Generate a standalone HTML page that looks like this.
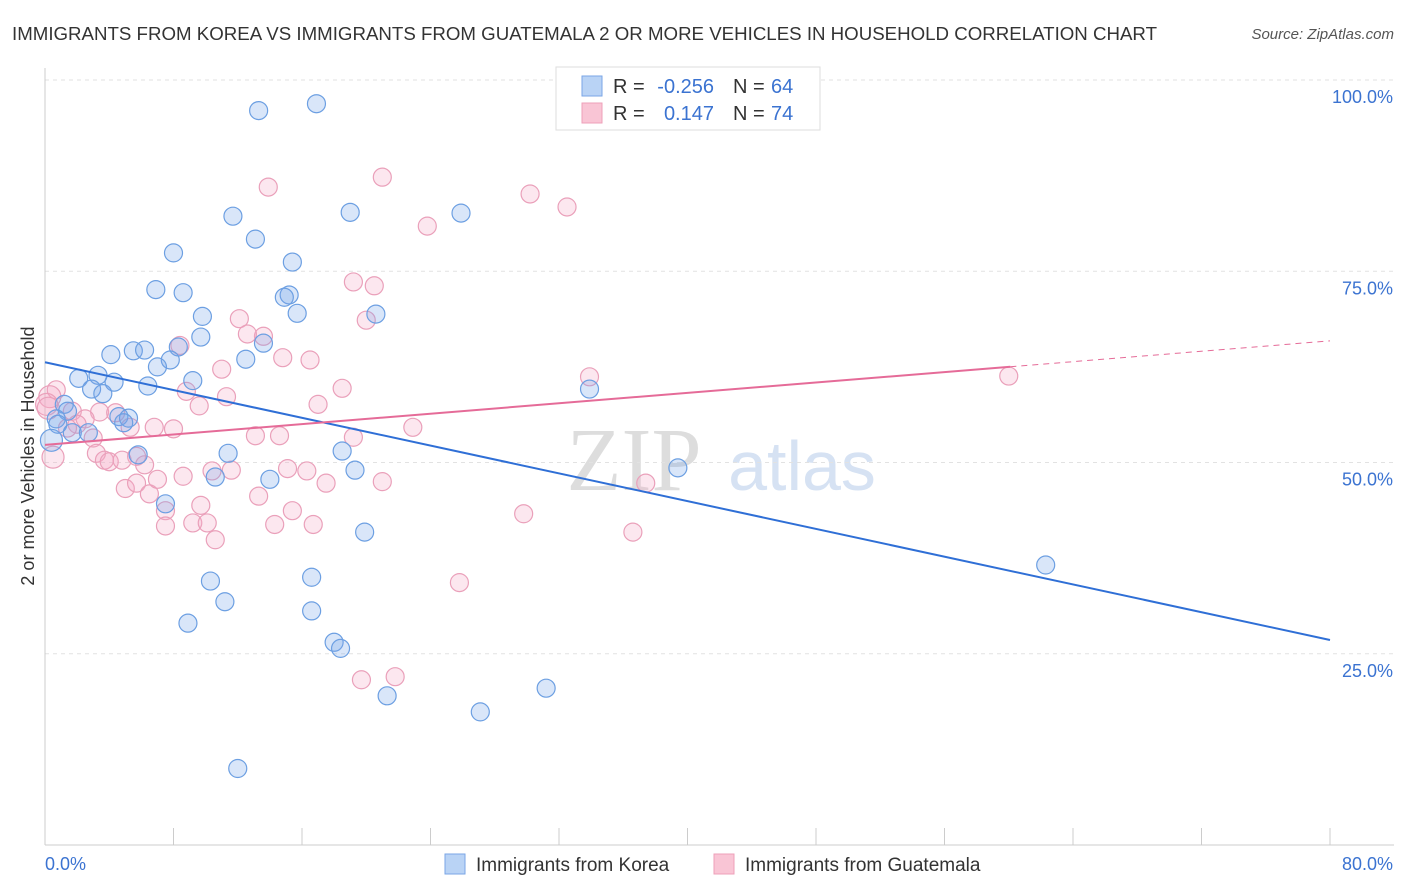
<!DOCTYPE html>
<html><head><meta charset="utf-8"><style>
body{margin:0;background:#fff;font-family:"Liberation Sans",sans-serif;}
svg{display:block}
</style></head><body>
<svg id="c" width="1406" height="892">
<text x="12" y="40" font-size="18" fill="#333" textLength="1145" lengthAdjust="spacingAndGlyphs">IMMIGRANTS FROM KOREA VS IMMIGRANTS FROM GUATEMALA 2 OR MORE VEHICLES IN HOUSEHOLD CORRELATION CHART</text>
<text x="1394" y="39" font-size="15" fill="#555" font-style="italic" text-anchor="end">Source: ZipAtlas.com</text>
<text x="634" y="490" font-size="90" fill="#ddd" font-family="Liberation Serif" text-anchor="middle">ZIP</text>
<text x="802" y="490" font-size="70" fill="#d6e2f3" text-anchor="middle">atlas</text>
<text transform="translate(34,456) rotate(-90)" font-size="18" fill="#333" text-anchor="middle">2 or more Vehicles in Household</text>
<g id="grid"></g><g id="pts"></g><g id="trend"></g>
<g>
<rect x="556" y="67" width="264" height="63" fill="#fff" stroke="#ddd"/>
<rect x="582" y="76" width="20" height="20" fill="#b9d3f5" stroke="#7aa6e6"/>
<rect x="582" y="103" width="20" height="20" fill="#f9c5d5" stroke="#eea0b9"/>
<text x="613" y="93" font-size="20" fill="#333">R =</text>
<text x="714" y="93" font-size="20" fill="#3b73d1" text-anchor="end">-0.256</text>
<text x="733" y="93" font-size="20" fill="#333">N =</text>
<text x="771" y="93" font-size="20" fill="#3b73d1">64</text>
<text x="613" y="120" font-size="20" fill="#333">R =</text>
<text x="714" y="120" font-size="20" fill="#3b73d1" text-anchor="end">0.147</text>
<text x="733" y="120" font-size="20" fill="#333">N =</text>
<text x="771" y="120" font-size="20" fill="#3b73d1">74</text>
</g>
<g>
<rect x="445" y="854" width="20" height="20" fill="#b9d3f5" stroke="#7aa6e6"/>
<text x="476" y="871" font-size="19" fill="#333">Immigrants from Korea</text>
<rect x="714" y="854" width="20" height="20" fill="#f9c5d5" stroke="#eea0b9"/>
<text x="745" y="871" font-size="19" fill="#333">Immigrants from Guatemala</text>
</g>
</svg>
<script>
const yTicks=[25,50,75,100];
const yTickLabels=["25.0%","50.0%","75.0%","100.0%"];
const xTickLabels=["0.0%","80.0%"];
const koreaX=[13.3,16.9,11.7,19.0,25.9,13.1,8.0,15.4,6.9,8.6,15.2,14.9,9.8,15.7,20.6,9.7,13.6,8.3,4.1,5.5,6.2,12.5,7.8,7.0,2.1,3.3,4.3,9.2,6.4,2.9,3.6,33.9,1.2,1.4,0.7,4.6,5.2,4.9,0.8,1.7,2.7,5.8,11.4,18.5,0.4,19.3,14.0,39.4,10.6,7.5,19.9,10.3,16.6,11.2,16.6,8.9,18.0,18.4,21.3,31.2,27.1,12.0,62.3];
const koreaY=[96.0,96.9,82.2,82.7,82.6,79.2,77.4,76.2,72.6,72.2,71.9,71.6,69.1,69.5,69.4,66.4,65.6,65.1,64.1,64.6,64.7,63.5,63.4,62.5,61.0,61.4,60.5,60.7,60.0,59.6,59.0,59.6,57.6,56.7,55.7,56.0,55.8,55.2,55.0,53.9,53.9,51.0,51.2,51.5,52.9,49.0,47.8,49.3,48.1,44.6,40.9,34.5,35.0,31.8,30.6,29.0,26.5,25.7,19.5,20.5,17.4,10.0,36.6];
const guatX=[13.9,21.0,30.2,32.5,23.8,19.2,20.5,20.0,12.1,13.6,12.6,8.4,14.8,16.5,11.0,8.8,18.5,33.9,60.0,11.3,0.7,0.3,0.1,9.6,17.0,1.7,3.4,2.5,2.0,1.4,4.4,6.8,5.3,8.0,22.9,19.2,3.0,13.1,14.6,5.7,6.2,3.2,3.7,4.0,4.8,8.6,10.4,11.6,15.1,16.3,17.5,21.0,37.4,5.0,5.7,6.5,7.0,13.3,9.7,15.4,7.5,7.5,9.2,10.1,14.3,16.7,10.6,29.8,36.6,25.8,19.7,21.8,0.5,0.2];
const guatY=[86.0,87.3,85.1,83.4,80.9,73.6,73.1,68.6,68.8,66.5,66.8,65.3,63.7,63.4,62.2,59.3,59.7,61.2,61.3,58.6,59.5,58.6,57.6,57.4,57.6,56.7,56.6,55.7,55.0,54.5,56.5,54.6,54.6,54.4,54.6,53.3,53.2,53.5,53.5,50.8,49.7,51.2,50.3,50.1,50.3,48.2,48.9,49.0,49.2,48.9,47.3,47.5,47.3,46.6,47.3,45.9,47.8,45.6,44.4,43.7,43.7,41.7,42.1,42.1,41.9,41.9,39.9,43.3,40.9,34.3,21.6,22.0,50.7,57.1];
const koreaTrend=[63.1,26.8];
const guatTrend=[52.3,65.9];
const guatSolidEnd=60.1;
const X0=45,X1=1330,Y0=845,YS=7.65;
const sx=v=>X0+v/80*(X1-X0), sy=v=>Y0-v*YS;
const NS="http://www.w3.org/2000/svg";
function mk(t,a,p){const e=document.createElementNS(NS,t);for(const k in a)e.setAttribute(k,a[k]);p.appendChild(e);return e;}
const grid=document.getElementById('grid');
yTicks.forEach((t,i)=>{
 const l=mk('line',{x1:X0,x2:1394,y1:sy(t),y2:sy(t),stroke:'#e2e2e2','stroke-dasharray':'4,4'},grid);
 
 
 const tx=mk('text',{x:1393,y:sy(t)+23,'font-size':18,fill:'#3b73d1','text-anchor':'end'},grid);
 tx.textContent=yTickLabels[i];
 
 
});
const ax=mk('line',{x1:X0,x2:X0,y1:68,y2:Y0,stroke:'#ccc'},grid);


const bx=mk('line',{x1:X0,x2:1394,y1:Y0,y2:Y0,stroke:'#ccc'},grid);


for(let i=0;i<=10;i++){const t=mk('line',{x1:sx(i*8),x2:sx(i*8),y1:Y0,y2:Y0-17,stroke:'#ccc'},grid);
 
 }
[[0,'start',45],[80,'end',1393]].forEach((d,i)=>{const t=mk('text',{x:d[2],y:870,'font-size':18,fill:'#3b73d1','text-anchor':d[1]},grid);t.textContent=xTickLabels[i];
 
 });
const pts=document.getElementById('pts');
function draw(xs,ys,fill,stroke,name){xs.forEach((x,i)=>{const r=(x<0.6)?11:9;
 const c=mk('circle',{cx:sx(x),cy:sy(ys[i]),r:r,fill:fill,stroke:stroke,'stroke-width':1.2},pts);
 
 });}
draw(guatX,guatY,'rgba(244,170,196,0.28)','#eaa0ba','guatemala-point');
draw(koreaX,koreaY,'rgba(120,165,235,0.28)','#6c9fe2','korea-point');
const tr=document.getElementById('trend');
const kl=mk('line',{x1:sx(0),y1:sy(koreaTrend[0]),x2:sx(80),y2:sy(koreaTrend[1]),stroke:'#2f6fd6','stroke-width':2},tr);


const gy=v=>guatTrend[0]+(guatTrend[1]-guatTrend[0])*v/80;
const gl=mk('line',{x1:sx(0),y1:sy(gy(0)),x2:sx(guatSolidEnd),y2:sy(gy(guatSolidEnd)),stroke:'#e56b98','stroke-width':2},tr);


const gd=mk('line',{x1:sx(guatSolidEnd),y1:sy(gy(guatSolidEnd)),x2:sx(80),y2:sy(gy(80)),stroke:'#e56b98','stroke-width':1,'stroke-dasharray':'6,5'},tr);


</script>
</body></html>
